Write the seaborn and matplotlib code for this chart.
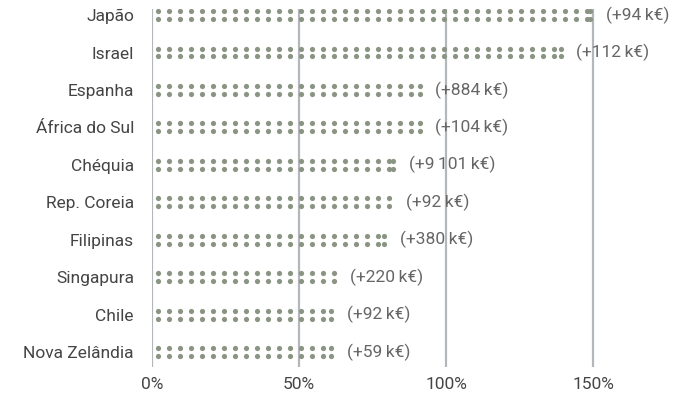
import numpy as np
import pandas as pd
import seaborn as sns
import matplotlib.pyplot as plt

countries = ["Japão", "Israel", "Espanha", "África do Sul", "Chéquia",
             "Rep. Coreia", "Filipinas", "Singapura", "Chile", "Nova Zelândia"]
growth_pct = [150, 140, 92, 92, 83, 82, 80, 63, 62, 62]
gain_labels = ["(+94\u2009k€)", "(+112\u2009k€)", "(+884\u2009k€)", "(+104\u2009k€)",
               "(+9\u2009101\u2009k€)", "(+92\u2009k€)", "(+380\u2009k€)",
               "(+220\u2009k€)", "(+92\u2009k€)", "(+59\u2009k€)"]
x_ticks = [0, 50, 100, 150]

dot_color = "#8a9483"
grid_color = "#b3b7bb"

### build the dot matrix: two rows of dots per country, pattern ends at the value
step = 3.74
rows = []
for i, (c, v) in enumerate(zip(countries, growth_pct)):
    xs = list(np.arange(2.0, v - 1.0, step))
    if v - 1.0 - xs[-1] > 0.5:
        xs.append(v - 1.0)
    for x in xs:
        rows.append({"country": c, "x": x, "y": i - 0.105})
        rows.append({"country": c, "x": x, "y": i + 0.105})
df = pd.DataFrame(rows)

sns.set_style("white")
plt.rcParams["font.family"] = ["Roboto", "DejaVu Sans"]

fig = plt.figure(figsize=(6.86, 3.97), dpi=100)
ax = fig.add_axes([0.2216, 0.0756, 0.75, 0.9014])

for t in x_ticks:
    ax.axvline(t, color=grid_color, lw=1.6, zorder=0)

sns.scatterplot(data=df, x="x", y="y", color=dot_color, s=14, linewidth=0,
                ax=ax, zorder=2, legend=False)

for i, (v, lab) in enumerate(zip(growth_pct, gain_labels)):
    ax.annotate(lab, xy=(v, i), xytext=(9, 0), textcoords="offset points",
                va="center", ha="left", fontsize=12.5, color="#666666")

ax.set_xlim(0, 175)
ax.set_ylim(9.4, -0.16)
ax.set_yticks(range(len(countries)))
ax.set_yticklabels(countries, fontsize=12.5, color="#444444")
ax.set_xticks(x_ticks)
ax.set_xticklabels([f"{t}%" for t in x_ticks], fontsize=12.5, color="#444444")
ax.tick_params(axis="y", length=0, pad=13)
ax.tick_params(axis="x", length=0, pad=7)
ax.set_xlabel("")
ax.set_ylabel("")
sns.despine(ax=ax, left=True, bottom=True)

fig.savefig("out.png", dpi=100)
